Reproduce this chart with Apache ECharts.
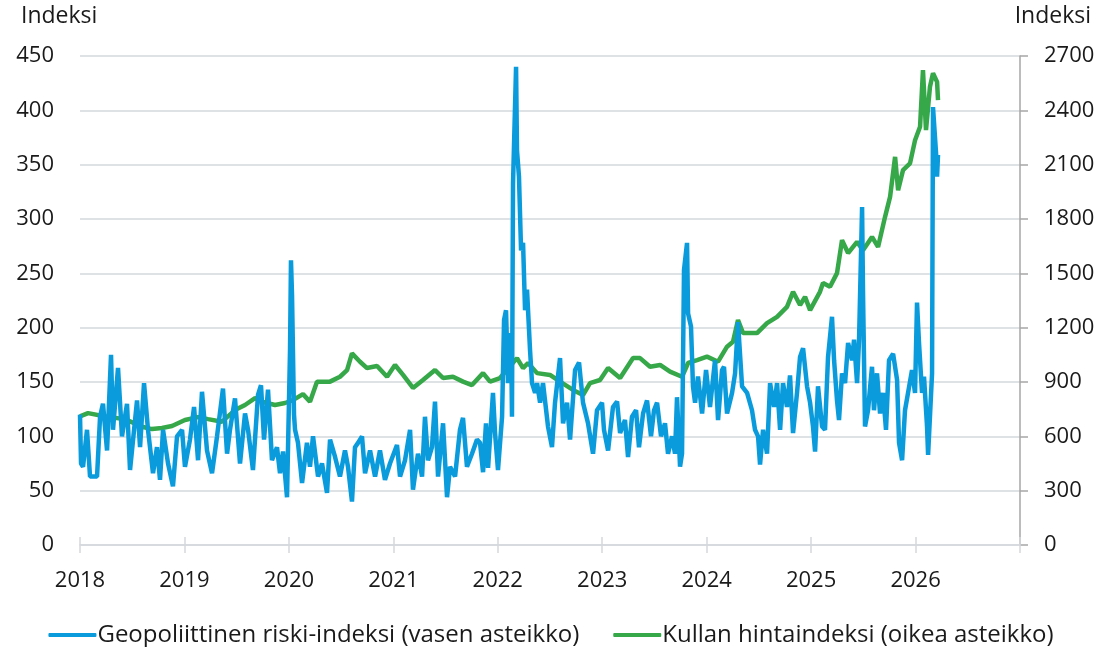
<!DOCTYPE html>
<html>
<head>
<meta charset="utf-8">
<script src="https://cdn.jsdelivr.net/npm/echarts@6/dist/echarts.min.js"></script>
<style>
  html, body { margin: 0; padding: 0; background: #fff; }
  #chart { width: 1102px; height: 647px; }
</style>
</head>
<body>
<div id="chart"></div>
<script>
// x-akseli vuosina (desimaalivuosi)
const yearTicks = [2018, 2019, 2020, 2021, 2022, 2023, 2024, 2025, 2026, 2027];
const seriesNames = ['Geopoliittinen riski-indeksi (vasen asteikko)', 'Kullan hintaindeksi (oikea asteikko)'];

// Geopoliittinen riski-indeksi
const riskYears = [
  2018.000, 2018.010, 2018.029, 2018.067, 2018.096, 2018.163, 2018.192, 2018.220, 2018.259, 2018.297,
  2018.316, 2018.364, 2018.402, 2018.450, 2018.479, 2018.546, 2018.575, 2018.613, 2018.651, 2018.699,
  2018.737, 2018.766, 2018.795, 2018.843, 2018.890, 2018.929, 2018.977, 2019.005, 2019.053, 2019.092,
  2019.130, 2019.168, 2019.216, 2019.264, 2019.312, 2019.369, 2019.408, 2019.436, 2019.484, 2019.532,
  2019.580, 2019.609, 2019.656, 2019.704, 2019.733, 2019.762, 2019.800, 2019.838, 2019.886, 2019.915,
  2019.944, 2019.982, 2020.011, 2020.020, 2020.030, 2020.049, 2020.059, 2020.087, 2020.126, 2020.173,
  2020.202, 2020.231, 2020.279, 2020.317, 2020.365, 2020.394, 2020.442, 2020.489, 2020.537, 2020.566,
  2020.604, 2020.633, 2020.662, 2020.700, 2020.729, 2020.777, 2020.825, 2020.872, 2020.920, 2020.968,
  2021.035, 2021.064, 2021.112, 2021.160, 2021.188, 2021.236, 2021.275, 2021.303, 2021.332, 2021.370,
  2021.399, 2021.428, 2021.476, 2021.514, 2021.543, 2021.591, 2021.638, 2021.667, 2021.705, 2021.753,
  2021.801, 2021.830, 2021.859, 2021.887, 2021.907, 2021.954, 2021.974, 2022.002, 2022.041, 2022.060,
  2022.079, 2022.098, 2022.127, 2022.136, 2022.146, 2022.175, 2022.184, 2022.203, 2022.223, 2022.242,
  2022.261, 2022.280, 2022.309, 2022.328, 2022.357, 2022.376, 2022.405, 2022.433, 2022.481, 2022.519,
  2022.548, 2022.596, 2022.625, 2022.663, 2022.692, 2022.740, 2022.778, 2022.816, 2022.864, 2022.912,
  2022.950, 2022.998, 2023.017, 2023.056, 2023.103, 2023.142, 2023.171, 2023.218, 2023.247, 2023.285,
  2023.324, 2023.352, 2023.391, 2023.429, 2023.467, 2023.496, 2023.525, 2023.563, 2023.601, 2023.630,
  2023.668, 2023.697, 2023.716, 2023.745, 2023.764, 2023.783, 2023.812, 2023.822, 2023.850, 2023.869,
  2023.889, 2023.917, 2023.956, 2023.994, 2024.032, 2024.080, 2024.109, 2024.147, 2024.166, 2024.195,
  2024.243, 2024.272, 2024.300, 2024.339, 2024.387, 2024.434, 2024.463, 2024.492, 2024.511, 2024.540,
  2024.578, 2024.607, 2024.645, 2024.674, 2024.703, 2024.731, 2024.769, 2024.798, 2024.827, 2024.865,
  2024.894, 2024.923, 2024.961, 2024.990, 2025.018, 2025.038, 2025.066, 2025.105, 2025.133, 2025.162,
  2025.200, 2025.220, 2025.248, 2025.267, 2025.296, 2025.325, 2025.354, 2025.392, 2025.411, 2025.440,
  2025.459, 2025.488, 2025.497, 2025.516, 2025.545, 2025.583, 2025.602, 2025.631, 2025.660, 2025.689,
  2025.717, 2025.746, 2025.785, 2025.823, 2025.842, 2025.871, 2025.899, 2025.928, 2025.966, 2025.995,
  2026.014, 2026.033, 2026.062, 2026.081, 2026.110, 2026.120, 2026.158, 2026.167, 2026.196, 2026.206,
  2026.215
];
const riskValues = [
  120, 75, 72, 106, 63, 63, 118, 130, 87, 175,
  106, 163, 100, 130, 69, 133, 90, 149, 106, 66,
  90, 60, 106, 75, 54, 100, 106, 72, 97, 127,
  78, 141, 87, 66, 100, 144, 84, 106, 135, 75,
  121, 106, 69, 138, 147, 97, 143, 78, 90, 66,
  86, 44, 180, 262, 230, 120, 106, 94, 57, 94,
  72, 100, 63, 75, 48, 97, 81, 63, 87, 72,
  40, 90, 94, 100, 66, 87, 63, 87, 60, 75,
  92, 63, 78, 106, 51, 84, 63, 118, 78, 90,
  132, 63, 112, 44, 72, 63, 106, 117, 72, 84,
  97, 94, 67, 112, 71, 140, 103, 69, 118, 207,
  216, 149, 195, 118, 333, 440, 363, 339, 271, 278,
  216, 235, 179, 149, 140, 149, 131, 149, 109, 90,
  131, 172, 112, 131, 97, 161, 168, 131, 112, 84,
  124, 131, 106, 87, 127, 132, 103, 115, 81, 118,
  124, 90, 121, 133, 100, 124, 131, 100, 112, 84,
  100, 84, 136, 72, 84, 253, 278, 213, 201, 146,
  131, 155, 121, 161, 127, 170, 115, 161, 164, 121,
  140, 158, 205, 146, 140, 124, 106, 100, 74, 106,
  84, 149, 127, 149, 106, 149, 127, 156, 103, 140,
  173, 181, 146, 131, 109, 86, 146, 109, 106, 173,
  210, 170, 133, 115, 158, 149, 186, 170, 189, 149,
  189, 311, 232, 109, 124, 164, 124, 158, 121, 140,
  106, 170, 176, 152, 94, 78, 124, 140, 161, 140,
  223, 186, 140, 155, 109, 83, 158, 403, 361, 339,
  359
];

// Kullan hintaindeksi
const goldYears = [
  2018.000, 2018.077, 2018.268, 2018.431, 2018.594, 2018.689, 2018.785, 2018.881, 2019.005, 2019.130,
  2019.226, 2019.360, 2019.484, 2019.580, 2019.676, 2019.743, 2019.867, 2019.963, 2020.039, 2020.135,
  2020.202, 2020.269, 2020.394, 2020.489, 2020.557, 2020.604, 2020.681, 2020.748, 2020.844, 2020.940,
  2021.016, 2021.093, 2021.188, 2021.284, 2021.399, 2021.476, 2021.571, 2021.667, 2021.753, 2021.859,
  2021.926, 2022.021, 2022.184, 2022.242, 2022.290, 2022.376, 2022.500, 2022.596, 2022.720, 2022.816,
  2022.883, 2022.979, 2023.056, 2023.171, 2023.295, 2023.362, 2023.458, 2023.554, 2023.649, 2023.764,
  2023.822, 2023.908, 2024.003, 2024.109, 2024.195, 2024.252, 2024.300, 2024.348, 2024.482, 2024.578,
  2024.674, 2024.769, 2024.827, 2024.894, 2024.942, 2024.990, 2025.085, 2025.114, 2025.181, 2025.248,
  2025.296, 2025.354, 2025.440, 2025.497, 2025.583, 2025.641, 2025.708, 2025.756, 2025.804, 2025.833,
  2025.880, 2025.947, 2025.995, 2026.043, 2026.071, 2026.100, 2026.138, 2026.167, 2026.206, 2026.215
];
const goldValues = [
  710, 728, 707, 695, 653, 640, 646, 657, 690, 706,
  695, 681, 745, 773, 811, 791, 773, 784, 800, 833,
  791, 902, 902, 929, 966, 1058, 1012, 977, 988, 929,
  994, 939, 867, 911, 966, 922, 929, 902, 883, 949,
  902, 922, 1032, 977, 1005, 949, 939, 902, 856, 828,
  894, 911, 977, 922, 1032, 1032, 984, 994, 957, 929,
  1005, 1021, 1040, 1012, 1095, 1122, 1242, 1170, 1170, 1225,
  1260, 1315, 1398, 1325, 1370, 1297, 1398, 1446, 1426, 1501,
  1683, 1612, 1674, 1628, 1701, 1646, 1812, 1922, 2143, 1959,
  2070, 2107, 2235, 2309, 2622, 2291, 2530, 2605, 2557, 2456
];

const FONT = '"Open Sans", Lato, sans-serif';
const TEXT_COLOR = '#1a1a1a';
const GRID_COLOR = '#d5d8dc';
const AXIS_COLOR = '#a6a6a6';

function pairs(xs, ys) {
  return xs.map((x, i) => [x, ys[i]]);
}

function initChart() {
  const chart = echarts.init(document.getElementById('chart'));
  const option = {
    animation: false,
    textStyle: { fontFamily: FONT, color: TEXT_COLOR },
    grid: { left: 80, right: 82, top: 56, bottom: 102 },
    graphic: [
      { type: 'text', left: 21, top: 5, style: { text: 'Indeksi', font: '23px ' + FONT, fill: TEXT_COLOR } },
      { type: 'text', right: 11, top: 5, style: { text: 'Indeksi', font: '23px ' + FONT, fill: TEXT_COLOR } }
    ],
    legend: {
      top: 618,
      left: 'center',
      icon: 'roundRect',
      itemWidth: 48,
      itemHeight: 4,
      itemGap: 34,
      textStyle: { fontFamily: FONT, fontSize: 24, color: TEXT_COLOR, padding: [0, 0, 0, -4] },
      data: seriesNames
    },
    xAxis: [{
      type: 'value',
      min: yearTicks[0],
      max: yearTicks[yearTicks.length - 1],
      interval: 1,
      axisLine: { onZero: false, lineStyle: { color: GRID_COLOR, width: 1.5 } },
      axisTick: { show: true, length: 8, lineStyle: { color: GRID_COLOR, width: 1.5 } },
      axisLabel: {
        margin: 25,
        fontFamily: FONT,
        fontSize: 22,
        color: TEXT_COLOR,
        formatter: v => (v === yearTicks[yearTicks.length - 1] ? '' : String(v))
      },
      splitLine: { show: false }
    }, {
      type: 'value',
      position: 'bottom',
      min: yearTicks[0],
      max: yearTicks[yearTicks.length - 1],
      interval: 1,
      axisLine: { show: false },
      axisTick: { show: true, inside: true, length: 8, lineStyle: { color: GRID_COLOR, width: 1.5 } },
      axisLabel: { show: false },
      splitLine: { show: false }
    }],
    yAxis: [{
      type: 'value',
      min: 0,
      max: 450,
      interval: 50,
      axisLine: { show: false },
      axisTick: { show: false },
      axisLabel: { margin: 26, fontFamily: FONT, fontSize: 22, color: TEXT_COLOR },
      splitLine: { lineStyle: { color: GRID_COLOR, width: 1.5 } }
    }, {
      type: 'value',
      min: 0,
      max: 2700,
      interval: 300,
      position: 'right',
      axisLine: { show: true, lineStyle: { color: AXIS_COLOR, width: 1.5 } },
      axisTick: { show: true, length: 8, lineStyle: { color: AXIS_COLOR, width: 1.5 } },
      axisLabel: { margin: 24, fontFamily: FONT, fontSize: 22, color: TEXT_COLOR, formatter: v => String(v) },
      splitLine: { show: false }
    }],
    series: [{
      name: seriesNames[0],
      type: 'line',
      yAxisIndex: 0,
      showSymbol: false,
      z: 3,
      itemStyle: { color: '#0a9bdc' },
      lineStyle: { color: '#0a9bdc', width: 4.5 },
      data: pairs(riskYears, riskValues)
    }, {
      name: seriesNames[1],
      type: 'line',
      yAxisIndex: 1,
      showSymbol: false,
      z: 2,
      itemStyle: { color: '#36a84a' },
      lineStyle: { color: '#36a84a', width: 4.5 },
      data: pairs(goldYears, goldValues)
    }]
  };
  chart.setOption(option);
}

document.addEventListener('DOMContentLoaded', function () {
  initChart();
});
</script>
</body>
</html>
